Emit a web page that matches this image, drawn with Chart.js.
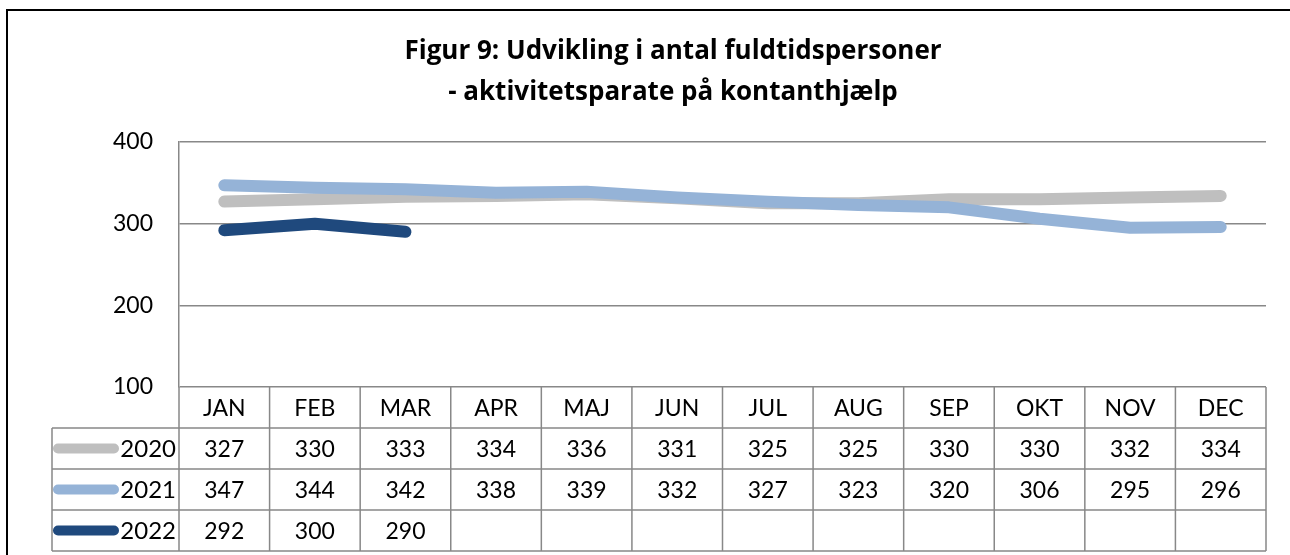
<!DOCTYPE html>
<html>
<head>
<meta charset="utf-8">
<script src="https://cdn.jsdelivr.net/npm/chart.js@4"></script>
<style>
  html, body { margin: 0; padding: 0; background: #fff; }
  #wrap { width: 1290px; height: 555px; }
</style>
</head>
<body>
<div id="wrap"><canvas id="chart" width="1290" height="555"></canvas></div>
<script>
// data
var months = ["JAN", "FEB", "MAR", "APR", "MAJ", "JUN", "JUL", "AUG", "SEP", "OKT", "NOV", "DEC"];
var seriesNames = ["2020", "2021", "2022"];
var values2020 = [327, 330, 333, 334, 336, 331, 325, 325, 330, 330, 332, 334];
var values2021 = [347, 344, 342, 338, 339, 332, 327, 323, 320, 306, 295, 296];
var values2022 = [292, 300, 290];
var yTicks = [100, 200, 300, 400];
var titleLines = ["Figur 9: Udvikling i antal fuldtidspersoner", "- aktivitetsparate på kontanthjælp"];

var seriesColors = ["#BFBFBF", "#95B3D7", "#1F497D"];
var fontFamily = "Lato, 'Open Sans', sans-serif";
var titleFamily = "'Open Sans', Lato, sans-serif";
var gridColor = "#888888";

function makeDataset(i, data) {
    return {
        label: seriesNames[i],
        data: data,
        borderColor: seriesColors[i],
        backgroundColor: seriesColors[i],
        borderWidth: 12,
        borderCapStyle: "round",
        borderJoinStyle: "round",
        pointRadius: 0,
        tension: 0,
        fill: false,
        order: 2 - i
    };
}

// outer frame of the chart object
var framePlugin = {
    id: "frame",
    beforeDraw: function (chart) {
        var ctx = chart.ctx;
        ctx.save();
        ctx.strokeStyle = "#000";
        ctx.lineWidth = 2;
        ctx.beginPath();
        ctx.moveTo(7, chart.height);
        ctx.lineTo(7, 10);
        ctx.lineTo(chart.width, 10);
        ctx.stroke();
        ctx.restore();
    }
};

// data table under the plot (Excel style)
var tablePlugin = {
    id: "dataTable",
    afterDraw: function (chart) {
        var ctx = chart.ctx;
        var x = chart.scales.x;
        var area = chart.chartArea;
        var rowH = 41;
        var legendLeft = 52;
        var step = x.getPixelForValue(1) - x.getPixelForValue(0);
        var top = area.bottom;
        var rowsTop = top + rowH;
        var bottom = rowsTop + rowH * seriesNames.length;
        var allValues = [values2020, values2021, values2022];

        ctx.save();
        ctx.strokeStyle = gridColor;
        ctx.lineWidth = 1.5;
        ctx.beginPath();
        // horizontal lines
        for (var r = 0; r <= seriesNames.length; r++) {
            var yy = rowsTop + r * rowH;
            ctx.moveTo(legendLeft, yy);
            ctx.lineTo(area.right, yy);
        }
        // vertical lines
        ctx.moveTo(legendLeft, rowsTop);
        ctx.lineTo(legendLeft, bottom);
        for (var c = 0; c <= months.length; c++) {
            var xx = x.getPixelForValue(0) - step / 2 + c * step;
            ctx.moveTo(xx, top);
            ctx.lineTo(xx, bottom);
        }
        ctx.stroke();

        ctx.fillStyle = "#000";
        ctx.font = "23px " + fontFamily;
        ctx.textAlign = "center";
        ctx.textBaseline = "middle";
        months.forEach(function (m, i) {
            ctx.fillText(m, x.getPixelForValue(i), top + rowH / 2 + 1);
        });
        allValues.forEach(function (vals, s) {
            var cy = rowsTop + s * rowH + rowH / 2 + 1;
            vals.forEach(function (v, i) {
                ctx.fillText(String(v), x.getPixelForValue(i), cy);
            });
        });

        // legend keys
        ctx.font = "24px " + fontFamily;
        seriesNames.forEach(function (name, s) {
            var cy = rowsTop + s * rowH + rowH / 2;
            ctx.strokeStyle = seriesColors[s];
            ctx.lineWidth = 10;
            ctx.lineCap = "round";
            ctx.beginPath();
            ctx.moveTo(legendLeft + 6, cy);
            ctx.lineTo(legendLeft + 62, cy);
            ctx.stroke();
            ctx.textAlign = "right";
            ctx.fillStyle = "#000";
            ctx.fillText(name, area.left - 3, cy + 1);
        });
        ctx.restore();
    }
};

new Chart(document.getElementById("chart"), {
    type: "line",
    data: {
        labels: months,
        datasets: [
            makeDataset(0, values2020),
            makeDataset(1, values2021),
            makeDataset(2, values2022)
        ]
    },
    options: {
        responsive: false,
        animation: false,
        layout: { padding: { top: 0, left: 80, right: 24, bottom: 168 } },
        plugins: {
            legend: { display: false },
            tooltip: { enabled: false },
            title: {
                display: true,
                text: titleLines,
                color: "#000",
                font: { family: titleFamily, size: 26, weight: "bold", lineHeight: 1.577 },
                padding: { top: 31, bottom: 29 }
            }
        },
        scales: {
            x: {
                display: false,
                offset: true
            },
            y: {
                min: 100,
                max: 400,
                afterFit: function (scale) { scale.width = 99; },
                afterBuildTicks: function (scale) {
                    scale.ticks = yTicks.map(function (v) { return { value: v }; });
                },
                ticks: {
                    color: "#000",
                    padding: 26,
                    font: { family: fontFamily, size: 23 }
                },
                grid: { color: gridColor, lineWidth: 1.5, drawTicks: false },
                border: { color: gridColor, width: 1.5 }
            }
        }
    },
    plugins: [framePlugin, tablePlugin]
});
</script>
</body>
</html>
